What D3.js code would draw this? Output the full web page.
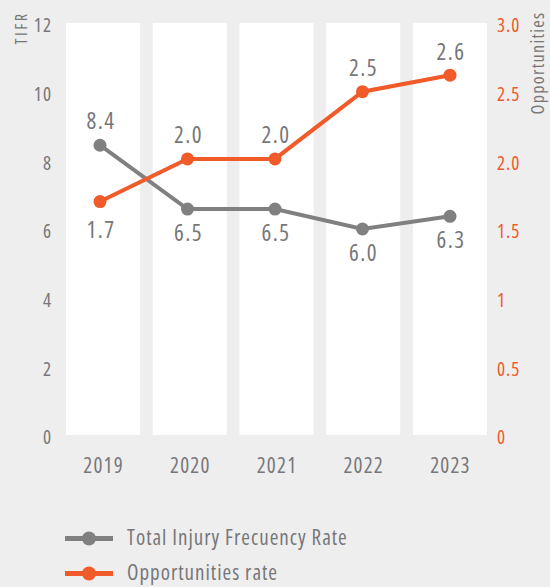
<!DOCTYPE html>
<html>
<head>
<meta charset="utf-8">
<script src="https://cdn.jsdelivr.net/npm/d3@7"></script>
<style>
  html, body { margin: 0; padding: 0; background: #eeeeee; }
  svg { display: block; }
  text { font-family: "Open Sans", "DejaVu Sans Condensed", sans-serif; font-stretch: condensed; }
</style>
</head>
<body>
<script>
const years = ["2019", "2020", "2021", "2022", "2023"];
const tifr = [8.44, 6.58, 6.58, 6.0, 6.37];
const opportunities = [1.7, 2.01, 2.01, 2.5, 2.62];
const leftTicks = [0, 2, 4, 6, 8, 10, 12];
const rightTicks = [0, 0.5, 1, 1.5, 2, 2.5, 3];
const rightTickLabels = ["0", "0.5", "1", "1.5", "2.0", "2.5", "3.0"];
const legendLabels = ["Total Injury Frecuency Rate", "Opportunities rate"];

const W = 550, H = 587;
const GRAY = "#808080", ORANGE = "#f15a29", TEXT = "#77777a";
const FONT = '"Open Sans", "DejaVu Sans Condensed", sans-serif';

const svg = d3.select("body").append("svg").attr("width", W).attr("height", H);
svg.append("rect").attr("width", W).attr("height", H).attr("fill", "#eeeeee");

const x = d3.scaleBand().domain(years).range([66, 487]).paddingInner(0.146).paddingOuter(0);
const xp = d3.scalePoint().domain(years).range([100, 450]);
const yL = d3.scaleLinear().domain([0, 12]).range([435, 23]);
const yR = d3.scaleLinear().domain([0, 3]).range([435, 23]);

function styleText(sel, size, spacing, color) {
  sel.attr("fill", color)
    .style("font-family", FONT).style("font-stretch", "condensed")
    .style("font-size", size + "px").style("letter-spacing", spacing + "px");
}

// white bands
svg.append("g").selectAll("rect").data(years).join("rect")
  .attr("x", d => x(d)).attr("y", yL(12)).attr("width", x.bandwidth())
  .attr("height", yL(0) - yL(12)).attr("fill", "#ffffff");

// left axis
const axL = svg.append("g").attr("transform", "translate(52,0)")
  .call(d3.axisLeft(yL).tickValues(leftTicks).tickSize(0).tickPadding(0).tickFormat(d3.format("d")));
axL.select(".domain").remove();
axL.selectAll("text").attr("dy", "0.46em").call(styleText, 19, 1, TEXT);

// right axis
const axR = svg.append("g").attr("transform", "translate(497,0)")
  .call(d3.axisRight(yR).tickValues(rightTicks).tickSize(0).tickPadding(0)
    .tickFormat((d, i) => rightTickLabels[i]));
axR.select(".domain").remove();
axR.selectAll("text").attr("dy", "0.46em").call(styleText, 19, 1, ORANGE);

// bottom axis
const axB = svg.append("g").attr("transform", "translate(0.5,473)")
  .call(d3.axisBottom(x).tickSize(0).tickPadding(0));
axB.select(".domain").remove();
axB.selectAll("text").attr("y", 0).attr("dy", 0).call(styleText, 21, 1.2, TEXT);

// axis titles
svg.append("text").attr("transform", "translate(26.5,28) rotate(-90)")
  .attr("text-anchor", "middle").call(styleText, 16, 2.5, TEXT).text("TIFR");
svg.append("text").attr("transform", "translate(544,63) rotate(-90)")
  .attr("text-anchor", "middle").call(styleText, 18, 1.3, TEXT).text("Opportunities");

// lines
const lineL = d3.line().x((d, i) => xp(years[i])).y(d => yL(d));
const lineR = d3.line().x((d, i) => xp(years[i])).y(d => yR(d));
svg.append("path").datum(tifr).attr("d", lineL).attr("fill", "none")
  .attr("stroke", GRAY).attr("stroke-width", 4);
svg.append("path").datum(opportunities).attr("d", lineR).attr("fill", "none")
  .attr("stroke", ORANGE).attr("stroke-width", 4);

svg.append("g").selectAll("circle").data(tifr).join("circle")
  .attr("cx", (d, i) => xp(years[i])).attr("cy", d => yL(d)).attr("r", 6.5).attr("fill", GRAY);
svg.append("g").selectAll("circle").data(opportunities).join("circle")
  .attr("cx", (d, i) => xp(years[i])).attr("cy", d => yR(d)).attr("r", 6.5).attr("fill", ORANGE);

const fmt = v => (Math.floor(v * 10 + 1e-6) / 10).toFixed(1);
// TIFR labels: above for 2019, below otherwise; opportunities: below for 2019, above otherwise
svg.append("g").selectAll("text").data(tifr).join("text")
  .attr("x", (d, i) => xp(years[i]) + 1)
  .attr("y", (d, i) => i === 0 ? yL(d) - 16.5 : yL(d) + 32)
  .attr("text-anchor", "middle").call(styleText, 23, 1.5, TEXT)
  .text(d => fmt(d));
svg.append("g").selectAll("text").data(opportunities).join("text")
  .attr("x", (d, i) => xp(years[i]) + 1)
  .attr("y", (d, i) => i === 0 ? yR(d) + 36 : yR(d) - 15.5)
  .attr("text-anchor", "middle").call(styleText, 23, 1.5, TEXT)
  .text(d => fmt(d));

// legend
const legend = svg.append("g");
const legColors = [GRAY, ORANGE];
const legY = d3.scalePoint().domain(legendLabels).range([538.5, 573.5]);
legendLabels.forEach((lab, i) => {
  const g = legend.append("g").attr("transform", `translate(0,${legY(lab)})`);
  g.append("line").attr("x1", 65).attr("x2", 113).attr("y1", 0).attr("y2", 0)
    .attr("stroke", legColors[i]).attr("stroke-width", 5);
  g.append("circle").attr("cx", 89).attr("cy", 0).attr("r", 7).attr("fill", legColors[i]);
  g.append("text").attr("x", 127).attr("y", 6.5).call(styleText, 21, 1, TEXT).text(lab);
});
</script>
</body>
</html>
